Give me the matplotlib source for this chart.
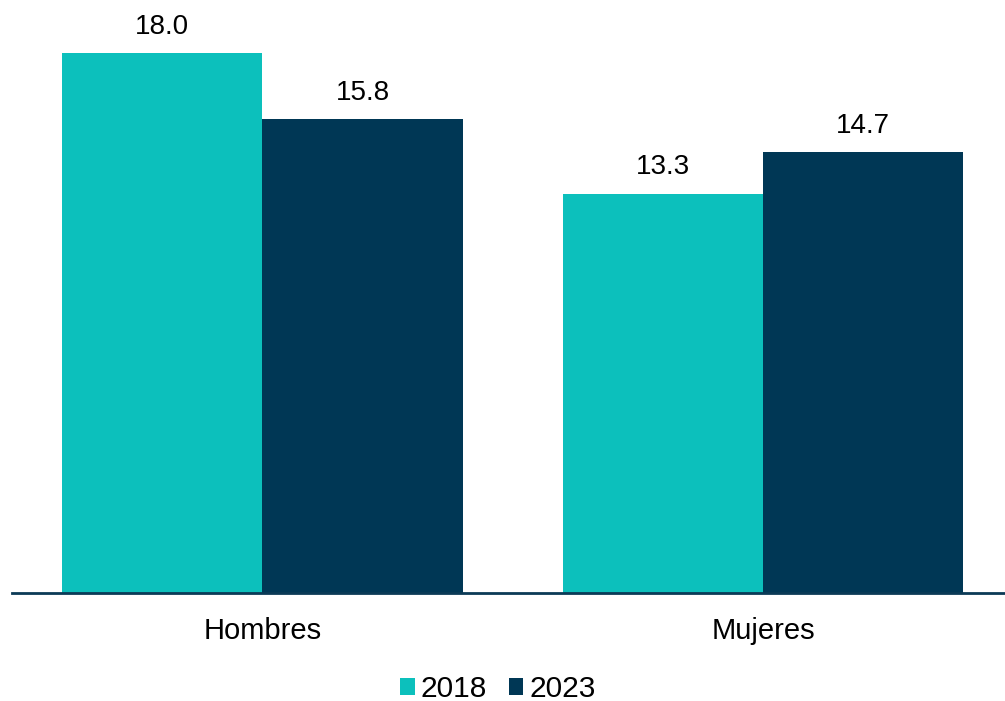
import numpy as np
from matplotlib import pyplot as plt

plt.rcParams['font.family'] = ['Liberation Sans', 'DejaVu Sans']

categories = ["Hombres", "Mujeres"]
years = ["2018", "2023"]
values_2018 = [18.0, 13.3]
values_2023 = [15.8, 14.7]
colors = ["#0cc0bc", "#003755"]


def main():
    fig = plt.figure(figsize=(10.05, 7.01), dpi=100)
    # axes placed in pixel terms: baseline y=593, ~30 px per unit
    ax = fig.add_axes([12 / 1005, (701 - 593) / 701, (1013.5 - 12) / 1005, 560 / 701])
    x = np.arange(len(categories))
    width = 0.4
    series = [values_2018, values_2023]
    for i, vals in enumerate(series):
        pos = x + (i - 0.5) * width
        bars = ax.bar(pos, vals, width, color=colors[i], label=years[i])
        for b, v in zip(bars, vals):
            ax.text(b.get_x() + b.get_width() / 2, v + 0.45, f"{v:.1f}",
                    ha="center", va="bottom", fontsize=20, color="#000000")

    ax.set_xlim(-0.5, 1.5)
    ax.set_ylim(0, 560 / 30.0)
    for s in ["top", "right", "left"]:
        ax.spines[s].set_visible(False)
    ax.spines["bottom"].set_color("#0b3a56")
    ax.spines["bottom"].set_linewidth(2)
    ax.set_yticks([])
    ax.set_xticks(x)
    ax.set_xticklabels(categories, fontsize=21)
    ax.tick_params(axis="x", length=0, pad=17)

    fig.legend(loc="center", bbox_to_anchor=(498 / 1005, 1 - 689 / 701),
               ncol=2, frameon=False, fontsize=21.5, handlelength=0.48,
               handleheight=0.48, handletextpad=0.2, columnspacing=0.75,
               borderpad=0.1)
    plt.savefig("out.png", dpi=100)
    plt.close()


if __name__ == "__main__":
    main()
